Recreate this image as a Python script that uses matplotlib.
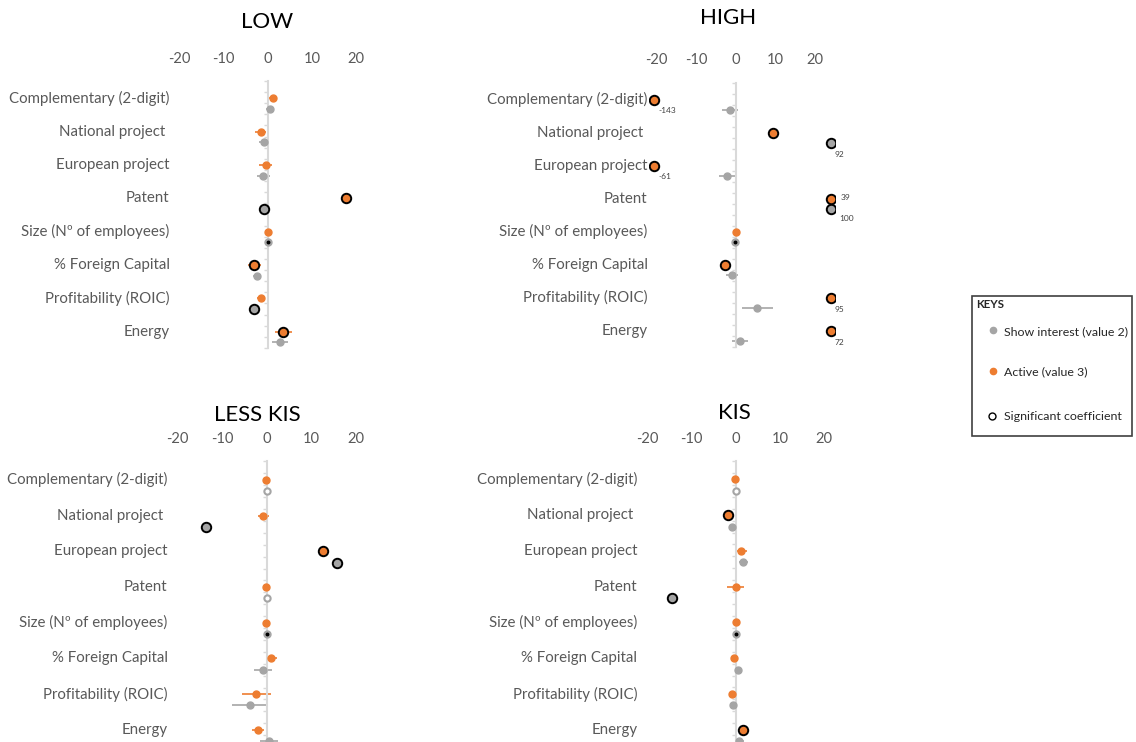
import numpy as np
import matplotlib.pyplot as plt
from matplotlib.patches import Rectangle
from matplotlib.transforms import blended_transform_factory

plt.rcParams['font.family'] = ['Lato', 'DejaVu Sans']

W, H = 1136, 742
ORANGE = '#ED7D31'
GRAY = '#A5A5A5'
TXT = '#595959'

categories = ['Complementary (2-digit)', 'National project ', 'European project', 'Patent',
              'Size (Nº of employees)', '% Foreign Capital', 'Profitability (ROIC)', 'Energy']
xticks = [-20, -10, 0, 10, 20]

# sig codes: 0 = not significant, 1 = significant coefficient, 2 = tiny black dot, 3 = ring
# LOW
low_active = [1.1, -1.7, -0.5, 17.6, 0.0, -3.1, -1.6, 3.5]
low_active_err = [0.9, 1.3, 1.5, 0.5, 0.4, 1.4, 1.0, 2.0]
low_active_sig = [0, 0, 0, 1, 0, 1, 0, 1]
low_interest = [0.4, -1.0, -1.1, -1.0, 0.1, -2.5, -3.1, 2.8]
low_interest_err = [0.8, 1.0, 1.5, 0.5, 0.3, 1.0, 1.0, 1.8]
low_interest_sig = [0, 0, 0, 1, 2, 0, 1, 0]

# HIGH (values beyond the axis are drawn at its edge and labelled)
high_active = [-143, 9.4, -61, 39, 0.0, -2.6, 95, 72]
high_active_err = [0, 0, 0, 0, 0.8, 0, 0, 0]
high_active_sig = [1, 1, 1, 1, 0, 1, 1, 1]
high_interest = [-1.5, 92, -2.2, 100, -0.2, -0.9, 5.5, 1.0]
high_interest_err = [2.0, 0, 2.0, 0, 0.3, 1.5, 4.0, 2.0]
high_interest_sig = [0, 1, 0, 1, 2, 0, 0, 0]

# LESS KIS
lkis_active = [-0.15, -0.75, 12.6, -0.1, -0.1, 1.0, -2.3, -1.9]
lkis_active_err = [0.5, 1.3, 0.5, 0.5, 0.5, 1.2, 3.3, 1.4]
lkis_active_sig = [0, 0, 1, 0, 0, 0, 0, 0]
lkis_interest = [0.1, -13.7, 15.7, 0.1, 0.1, -0.75, -3.8, 0.6]
lkis_interest_err = [0.3, 0, 0, 0.3, 0.3, 2.0, 4.0, 2.0]
lkis_interest_sig = [3, 1, 1, 3, 2, 0, 0, 0]

# KIS
kis_active = [-0.1, -1.75, 1.3, 0.0, 0.1, -0.5, -0.9, 1.6]
kis_active_err = [0.6, 0.5, 1.3, 1.9, 0.6, 0.5, 0.5, 0.5]
kis_active_sig = [0, 1, 0, 0, 0, 0, 0, 1]
kis_interest = [0.0, -0.75, 1.7, -14.5, 0.0, 0.5, -0.7, 0.8]
kis_interest_err = [0.3, 0.8, 1.0, 0, 0.3, 0.6, 0.6, 1.0]
kis_interest_sig = [3, 0, 0, 1, 2, 0, 0, 0]

fig = plt.figure(figsize=(W / 100, H / 100), dpi=100)


def px_axes(l, t, r, b):
    return fig.add_axes([l / W, 1 - b / H, (r - l) / W, (b - t) / H])


def draw_series(ax, xs, errs, sigs, ys, color, lo, hi):
    for x, e, s, y in zip(xs, errs, sigs, ys):
        xp = min(max(x, lo), hi)
        if e > 0:
            ax.errorbar(xp, y, xerr=e, fmt='none', ecolor=color, elinewidth=1.2,
                        capsize=0, zorder=2)
        if s == 1:
            ax.plot(xp, y, 'o', ms=6.8, mfc=color, mec='black', mew=1.4, zorder=4)
        elif s == 3:
            ax.plot(xp, y, 'o', ms=4.5, mfc='white', mec=color, mew=1.5, zorder=3)
        else:
            ax.plot(xp, y, 'o', ms=5, mfc=color, mec=color, zorder=3)
            if s == 2:
                ax.plot(xp, y, 'o', ms=1.8, color='black', zorder=5)


panels = [
    ('LOW', (low_active, low_active_err, low_active_sig),
     (low_interest, low_interest_err, low_interest_sig),
     (170.8, 81, 378.5, 348), (267, 22)),
    ('HIGH', (high_active, high_active_err, high_active_sig),
     (high_interest, high_interest_err, high_interest_sig),
     (648.7, 82.5, 834.6, 347), (728, 18)),
    ('LESS KIS', (lkis_active, lkis_active_err, lkis_active_sig),
     (lkis_interest, lkis_interest_err, lkis_interest_sig),
     (168.8, 461.5, 378, 747), (257, 415)),
    ('KIS', (kis_active, kis_active_err, kis_active_sig),
     (kis_interest, kis_interest_err, kis_interest_sig),
     (638.5, 461, 846.2, 747), (734, 413)),
]

lo, hi = -20.7, 24.0
n = len(categories)
y_active = np.arange(n) * 3 + 1.55
y_interest = np.arange(n) * 3 + 2.5

for title, act, intr, box, tpos in panels:
    ax = px_axes(*box)
    ax.set_xlim(-22, 25)
    ax.set_ylim(24, 0)
    for sp in ['top', 'right', 'bottom']:
        ax.spines[sp].set_visible(False)
    ax.spines['left'].set_position(('data', 0))
    ax.spines['left'].set_color('#d9d9d9')
    ax.spines['left'].set_linewidth(1.5)
    ax.set_yticks(np.arange(0, 25, 1))
    ax.set_yticklabels([])
    ax.tick_params(axis='y', length=3, width=1, color='#d9d9d9', direction='out')
    ax.xaxis.tick_top()
    ax.set_xticks(xticks)
    ax.set_xticklabels([str(t) for t in xticks])
    ax.tick_params(axis='x', length=0, pad=11, labelsize=10.6, labelcolor=TXT)
    ax.patch.set_alpha(0)

    trans = blended_transform_factory(ax.transAxes, ax.transData)
    for cat, y in zip(categories, y_active):
        ax.text(-0.006, y, cat, transform=trans, ha='right', va='center',
                fontsize=10.8, color=TXT)

    draw_series(ax, intr[0], intr[1], intr[2], y_interest, GRAY, lo, hi)
    draw_series(ax, act[0], act[1], act[2], y_active, ORANGE, lo, hi)

    # labels for values that fall outside the axis
    for i in range(n):
        a_out = act[0][i] < lo or act[0][i] > hi
        g_out = intr[0][i] < lo or intr[0][i] > hi
        for v, y, out, is_act in [(act[0][i], y_active[i], a_out, True),
                                  (intr[0][i], y_interest[i], g_out, False)]:
            if not out:
                continue
            xp = min(max(v, lo), hi)
            if a_out and g_out:
                off = (7, 1) if is_act else (6, -6.5)
            else:
                off = (3, -8)
            ax.annotate(str(int(round(v))), (xp, y), xytext=off, textcoords='offset points',
                        ha='left', va='center', fontsize=6, color='#404040')

    fig.text(tpos[0] / W, 1 - tpos[1] / H, title, ha='center', va='center',
             fontsize=16, color='black')

# legend box
lg = px_axes(965, 290, 1136, 440)
lg.set_xlim(965, 1136)
lg.set_ylim(440, 290)
lg.axis('off')
lg.add_patch(Rectangle((972, 296), 160, 140, fill=False, ec='#404040', lw=1.2))
lg.text(976, 305, 'KEYS', fontsize=8.3, fontweight='bold', color='#262626', va='center')
lg.plot(993, 330, 'o', ms=4.5, color=GRAY)
lg.text(1004, 332, 'Show interest (value 2)', fontsize=8.9, color='#262626', va='center')
lg.plot(993, 370.5, 'o', ms=4.5, color=ORANGE)
lg.text(1004, 372, 'Active (value 3)', fontsize=8.9, color='#262626', va='center')
lg.plot(992, 415.5, 'o', ms=5, mfc='white', mec='black', mew=1)
lg.text(1004, 416, 'Significant coefficient', fontsize=8.9, color='#262626', va='center')

fig.savefig('out.png', dpi=100)
